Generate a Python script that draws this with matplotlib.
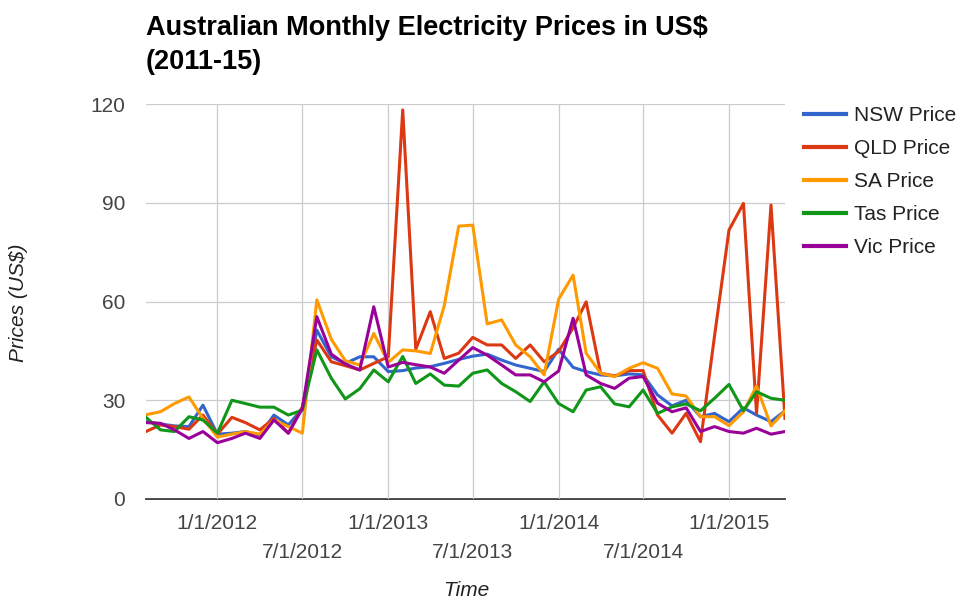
import matplotlib
matplotlib.use('Agg')
import matplotlib.pyplot as plt
import matplotlib.dates as mdates
import numpy as np
import pandas as pd

plt.rcParams['font.family'] = ['Liberation Sans', 'DejaVu Sans']

# monthly values, Aug 2011 .. May 2015
months = pd.date_range('2011-08-01', periods=46, freq='MS')

nsw = [23.5, 22.8, 22.2, 22.0, 28.5, 19.7, 20.0, 20.5, 19.4, 25.5, 22.5, 27.5,
       51.3, 43.2, 41.2, 43.2, 43.2, 38.7, 39.0, 39.8, 40.2, 41.2, 42.4, 43.4,
       44.0, 42.2, 40.7, 39.7, 38.7, 45.5, 40.0, 38.7, 37.7, 37.4, 38.0, 37.7,
       31.6, 28.3, 30.0, 25.0, 26.0, 23.5, 27.7, 25.5, 23.5, 26.8]
qld = [20.5, 22.5, 22.0, 21.2, 25.5, 19.7, 24.8, 23.2, 21.0, 24.5, 20.0, 28.0,
       48.3, 41.7, 40.5, 39.2, 41.2, 43.2, 118.2, 45.5, 56.9, 42.7, 44.3, 49.1,
       46.8, 46.8, 42.7, 46.8, 41.7, 44.8, 52.0, 59.9, 38.2, 37.4, 39.0, 39.0,
       25.5, 20.0, 26.0, 17.4, 49.5, 81.7, 89.8, 26.0, 89.3, 24.5]
sa = [25.6, 26.5, 29.0, 31.0, 24.5, 18.8, 19.7, 20.5, 19.7, 24.0, 22.0, 20.0,
      60.5, 48.5, 42.0, 40.7, 50.3, 41.5, 45.3, 45.0, 44.2, 58.7, 82.9, 83.2,
      53.2, 54.4, 46.8, 43.2, 37.7, 60.7, 68.0, 44.3, 38.2, 37.2, 39.7, 41.4,
      39.7, 31.9, 31.3, 25.0, 25.0, 22.3, 26.5, 34.3, 22.2, 26.8]
tas = [24.8, 21.0, 20.5, 25.0, 24.0, 20.0, 30.0, 29.0, 27.9, 27.9, 25.5, 27.0,
       45.3, 36.7, 30.4, 33.5, 39.2, 35.6, 43.3, 35.1, 38.0, 34.6, 34.3, 38.2,
       39.2, 35.1, 32.6, 29.6, 35.6, 29.0, 26.5, 33.1, 34.1, 28.9, 28.0, 33.1,
       26.0, 28.0, 28.9, 26.8, 30.6, 34.8, 26.8, 32.6, 30.6, 30.0]
vic = [23.2, 23.0, 21.0, 18.4, 20.5, 17.1, 18.4, 20.0, 18.4, 24.0, 20.0, 27.5,
       55.4, 44.0, 41.0, 39.2, 58.4, 40.1, 41.5, 40.8, 40.1, 38.2, 42.2, 46.0,
       43.7, 40.7, 37.7, 37.7, 35.6, 38.9, 54.9, 37.7, 35.1, 33.6, 36.7, 37.2,
       29.1, 26.5, 27.7, 20.5, 22.0, 20.5, 20.0, 21.5, 19.7, 20.5]

series = [('NSW Price', nsw, '#3366cc'),
          ('QLD Price', qld, '#dc3912'),
          ('SA Price', sa, '#ff9900'),
          ('Tas Price', tas, '#109618'),
          ('Vic Price', vic, '#990099')]

jan_ticks = pd.to_datetime(['2012-01-01', '2013-01-01', '2014-01-01', '2015-01-01'])
jan_labels = ['1/1/2012', '1/1/2013', '1/1/2014', '1/1/2015']
jul_ticks = pd.to_datetime(['2012-07-01', '2013-07-01', '2014-07-01'])
jul_labels = ['7/1/2012', '7/1/2013', '7/1/2014']
yticks = [0, 30, 60, 90, 120]

fig = plt.figure(figsize=(9.58, 6.0), dpi=100)
ax = fig.add_axes([146/958, 1 - 499/600, (785 - 146)/958, (499 - 104)/600])

for name, vals, col in series:
    ax.plot(months, vals, color=col, lw=2.2, label=name, solid_joinstyle='round')

ax.set_xlim(months[0], months[-1])
ax.set_ylim(0, 120)
ax.set_yticks(yticks)
ax.set_xticks(jan_ticks)
ax.set_xticklabels(jan_labels)
ax.set_xticks(jul_ticks, minor=True)
ax.set_xticklabels(jul_labels, minor=True)

ax.grid(True, which='both', color='#cccccc', lw=0.9)
ax.set_axisbelow(True)
for s in ['top', 'right', 'left']:
    ax.spines[s].set_visible(False)
ax.spines['bottom'].set_color('#333333')
ax.spines['bottom'].set_linewidth(1.3)
ax.spines['bottom'].set_zorder(0.5)

ax.tick_params(axis='y', length=0, pad=15, labelsize=15, labelcolor='#444444')
ax.tick_params(axis='x', which='major', length=0, pad=10.5, labelsize=15, labelcolor='#444444')
ax.tick_params(axis='x', which='minor', length=0, pad=32, labelsize=15, labelcolor='#444444')

fig.text(19/958, 1 - 303/600, 'Prices (US$)', rotation=90, fontsize=15, style='italic',
         color='#222222', ha='center', va='center')
fig.text(466/958, 1 - 590/600, 'Time', fontsize=15, style='italic',
         color='#222222', ha='center', va='center')

fig.text(146/958, 1 - 15/600, 'Australian Monthly Electricity Prices in US$\n(2011-15)',
         fontsize=19.5, fontweight='bold', color='#000000', ha='left', va='top',
         linespacing=1.4)

leg = fig.legend(loc='upper left', bbox_to_anchor=(804/958, 1 - 106/600), frameon=False,
                 fontsize=15, handlelength=2.0, handletextpad=0.4, labelspacing=0.67,
                 borderpad=0, borderaxespad=0)
for t in leg.get_texts():
    t.set_color('#222222')
for l in leg.get_lines():
    l.set_linewidth(3)

fig.savefig('out.png', dpi=100)
